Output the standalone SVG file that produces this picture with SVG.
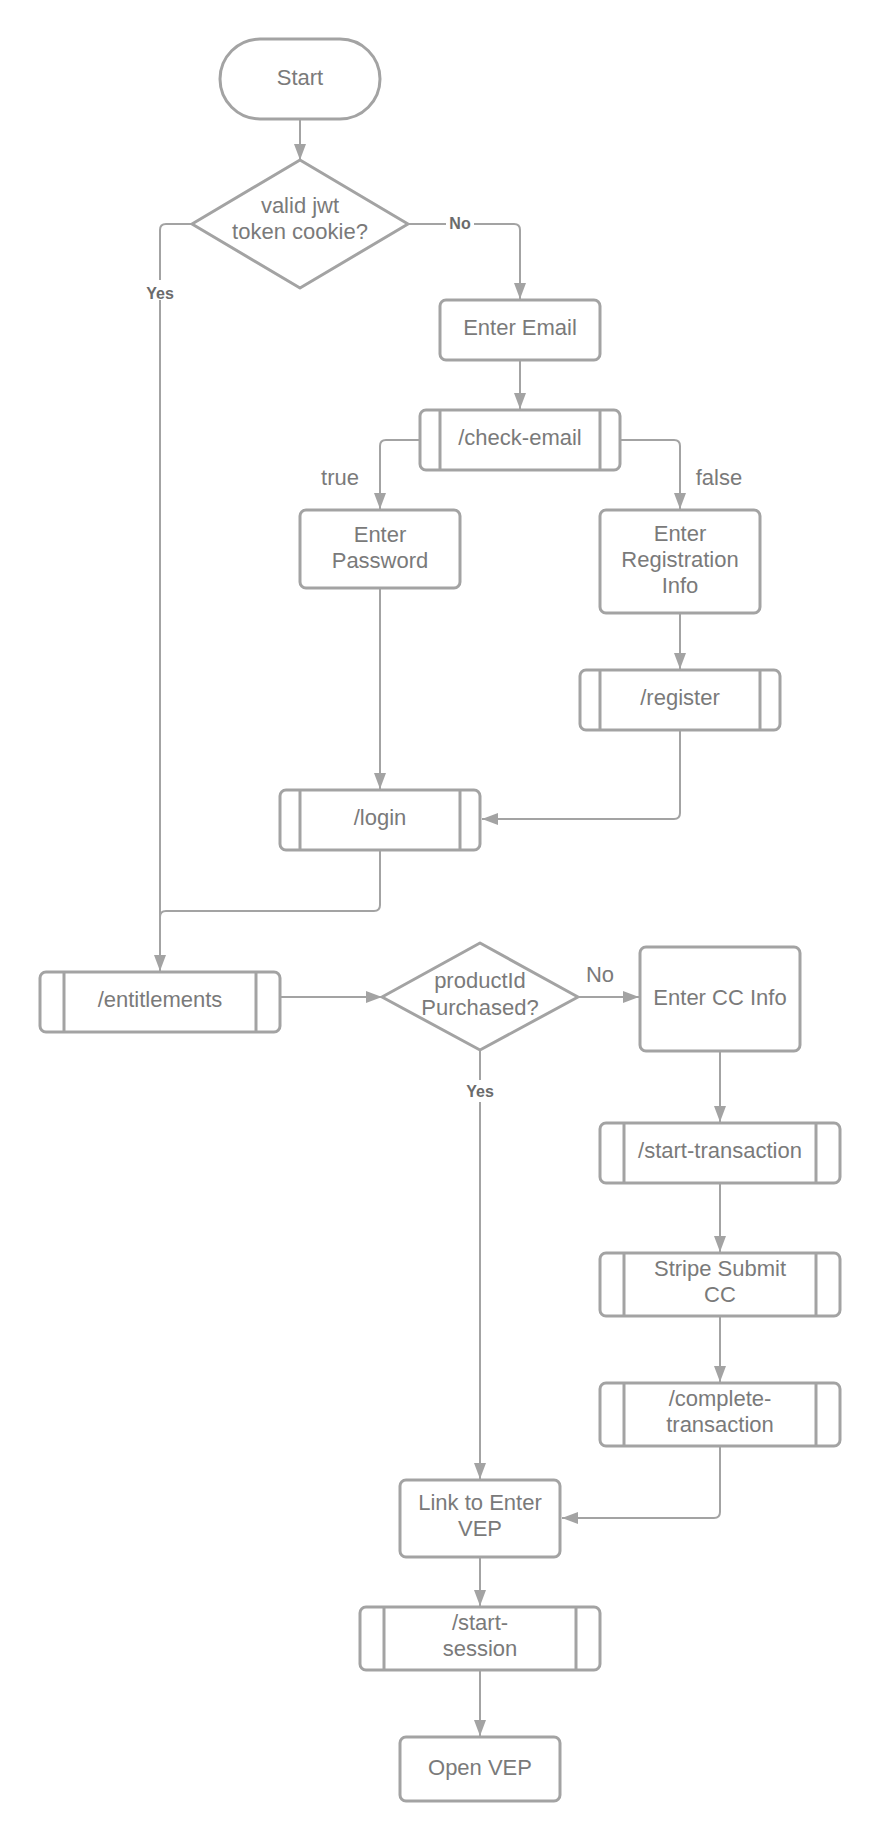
<svg xmlns="http://www.w3.org/2000/svg" width="880" height="1841" viewBox="0 0 880 1841">
<style>
.n{fill:#ffffff;stroke:#a3a3a3;stroke-width:3;stroke-linejoin:round}
.d{fill:none;stroke:#a3a3a3;stroke-width:3}
.t{font-family:"Liberation Sans",Arial,sans-serif;font-size:22px;fill:#7a7a7a;text-anchor:middle}
.c{fill:none;stroke:#a3a3a3;stroke-width:2;stroke-linejoin:round}
.lb{font-family:"Liberation Sans",Arial,sans-serif;font-size:16px;font-weight:bold;fill:#6b6b6b;text-anchor:middle}
.lr{font-family:"Liberation Sans",Arial,sans-serif;font-size:22px;fill:#7a7a7a;text-anchor:middle}
</style>
<defs>
<marker id="ah" viewBox="0 0 16 12" refX="16" refY="6" markerWidth="16" markerHeight="12" markerUnits="userSpaceOnUse" orient="auto">
<path d="M0,0 L16,6 L0,12 z" fill="#a3a3a3"/>
</marker>
</defs>
<rect width="880" height="1841" fill="#ffffff"/>

<g id="connectors">
<path class="c" d="M300,120 V160" marker-end="url(#ah)"/>
<path class="c" d="M192,224 H166 Q160,224 160,230 V971" marker-end="url(#ah)"/>
<path class="c" d="M408,224 H514 Q520,224 520,230 V299" marker-end="url(#ah)"/>
<path class="c" d="M520,360 V409" marker-end="url(#ah)"/>
<path class="c" d="M420,440 H386 Q380,440 380,446 V509" marker-end="url(#ah)"/>
<path class="c" d="M620,440 H674 Q680,440 680,446 V509" marker-end="url(#ah)"/>
<path class="c" d="M380,588 V789" marker-end="url(#ah)"/>
<path class="c" d="M680,613 V669" marker-end="url(#ah)"/>
<path class="c" d="M680,730 V813 Q680,819 674,819 H482" marker-end="url(#ah)"/>
<path class="c" d="M380,850 V905 Q380,911 374,911 H166 Q160,911 160,917"/>
<path class="c" d="M280,997 H382" marker-end="url(#ah)"/>
<path class="c" d="M578,997 H639" marker-end="url(#ah)"/>
<path class="c" d="M480,1050 V1479" marker-end="url(#ah)"/>
<path class="c" d="M720,1051 V1122" marker-end="url(#ah)"/>
<path class="c" d="M720,1183 V1252" marker-end="url(#ah)"/>
<path class="c" d="M720,1316 V1382" marker-end="url(#ah)"/>
<path class="c" d="M720,1446 V1512 Q720,1518 714,1518 H562" marker-end="url(#ah)"/>
<path class="c" d="M480,1557 V1606" marker-end="url(#ah)"/>
<path class="c" d="M480,1670 V1736" marker-end="url(#ah)"/>
<rect x="145" y="280" width="30" height="20" fill="#ffffff"/>
<text class="lb" x="160" y="299">Yes</text>
<rect x="446" y="214" width="28" height="20" fill="#ffffff"/>
<text class="lb" x="460" y="229">No</text>
<rect x="464" y="1080" width="32" height="22" fill="#ffffff"/>
<text class="lb" x="480" y="1097">Yes</text>
<text class="lr" x="600" y="982">No</text>
<text class="lr" x="340" y="485">true</text>
<text class="lr" x="719" y="485">false</text>
</g>

<g id="start">
<rect class="n" x="220" y="39" width="160" height="80" rx="40"/>
<text class="t" x="300" y="85">Start</text>
</g>

<g id="jwt-decision">
<path class="n" d="M300,160 L408,224 L300,288 L192,224 Z"/>
<text class="t" x="300" y="213">valid jwt</text>
<text class="t" x="300" y="239">token cookie?</text>
</g>

<g id="enter-email">
<rect class="n" x="440" y="300" width="160" height="60" rx="6"/>
<text class="t" x="520" y="334.5">Enter Email</text>
</g>

<g id="check-email">
<rect class="n" x="420" y="410" width="200" height="60" rx="6"/>
<line class="d" x1="440" y1="410" x2="440" y2="470"/>
<line class="d" x1="600" y1="410" x2="600" y2="470"/>
<text class="t" x="520" y="444.5">/check-email</text>
</g>

<g id="enter-password">
<rect class="n" x="300" y="510" width="160" height="78" rx="6"/>
<text class="t" x="380" y="541.5">Enter</text>
<text class="t" x="380" y="567.5">Password</text>
</g>

<g id="enter-registration">
<rect class="n" x="600" y="510" width="160" height="103" rx="6"/>
<text class="t" x="680" y="540.5">Enter</text>
<text class="t" x="680" y="566.5">Registration</text>
<text class="t" x="680" y="592.5">Info</text>
</g>

<g id="register">
<rect class="n" x="580" y="670" width="200" height="60" rx="6"/>
<line class="d" x1="600" y1="670" x2="600" y2="730"/>
<line class="d" x1="760" y1="670" x2="760" y2="730"/>
<text class="t" x="680" y="705">/register</text>
</g>

<g id="login">
<rect class="n" x="280" y="790" width="200" height="60" rx="6"/>
<line class="d" x1="300" y1="790" x2="300" y2="850"/>
<line class="d" x1="460" y1="790" x2="460" y2="850"/>
<text class="t" x="380" y="825">/login</text>
</g>

<g id="entitlements">
<rect class="n" x="40" y="972" width="240" height="60" rx="6"/>
<line class="d" x1="64" y1="972" x2="64" y2="1032"/>
<line class="d" x1="256" y1="972" x2="256" y2="1032"/>
<text class="t" x="160" y="1007">/entitlements</text>
</g>

<g id="purchased-decision">
<path class="n" d="M480,943 L578,997 L480,1050 L382,997 Z"/>
<text class="t" x="480" y="988">productId</text>
<text class="t" x="480" y="1014.5">Purchased?</text>
</g>

<g id="enter-cc">
<rect class="n" x="640" y="947" width="160" height="104" rx="6"/>
<text class="t" x="720" y="1004.5">Enter CC Info</text>
</g>

<g id="start-transaction">
<rect class="n" x="600" y="1123" width="240" height="60" rx="6"/>
<line class="d" x1="624" y1="1123" x2="624" y2="1183"/>
<line class="d" x1="816" y1="1123" x2="816" y2="1183"/>
<text class="t" x="720" y="1158">/start-transaction</text>
</g>

<g id="stripe-submit">
<rect class="n" x="600" y="1253" width="240" height="63" rx="6"/>
<line class="d" x1="624" y1="1253" x2="624" y2="1316"/>
<line class="d" x1="816" y1="1253" x2="816" y2="1316"/>
<text class="t" x="720" y="1276">Stripe Submit</text>
<text class="t" x="720" y="1302">CC</text>
</g>

<g id="complete-transaction">
<rect class="n" x="600" y="1383" width="240" height="63" rx="6"/>
<line class="d" x1="624" y1="1383" x2="624" y2="1446"/>
<line class="d" x1="816" y1="1383" x2="816" y2="1446"/>
<text class="t" x="720" y="1406">/complete-</text>
<text class="t" x="720" y="1432">transaction</text>
</g>

<g id="link-vep">
<rect class="n" x="400" y="1480" width="160" height="77" rx="6"/>
<text class="t" x="480" y="1510">Link to Enter</text>
<text class="t" x="480" y="1536">VEP</text>
</g>

<g id="start-session">
<rect class="n" x="360" y="1607" width="240" height="63" rx="6"/>
<line class="d" x1="384" y1="1607" x2="384" y2="1670"/>
<line class="d" x1="576" y1="1607" x2="576" y2="1670"/>
<text class="t" x="480" y="1630">/start-</text>
<text class="t" x="480" y="1656">session</text>
</g>

<g id="open-vep">
<rect class="n" x="400" y="1737" width="160" height="64" rx="6"/>
<text class="t" x="480" y="1775">Open VEP</text>
</g>
</svg>
